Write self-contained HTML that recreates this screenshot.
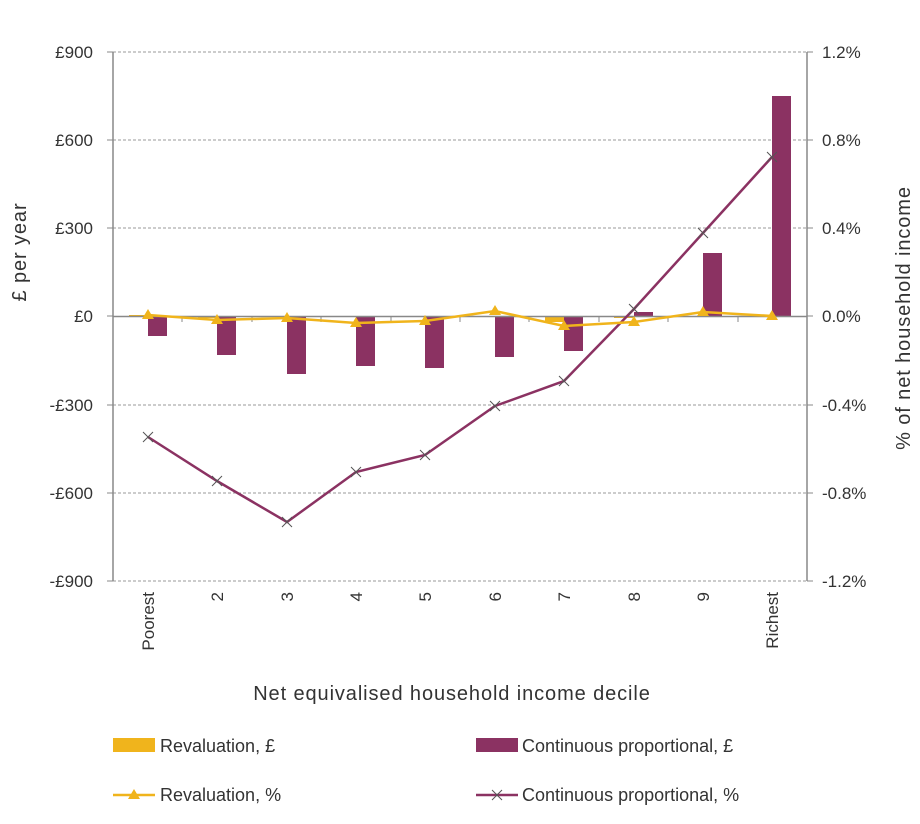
<!DOCTYPE html>
<html><head><style>
body{margin:0;background:#fff;}
svg text{font-family:"Liberation Sans",sans-serif;fill:#333;}
.ttl{font-size:20px;letter-spacing:0.9px;}
</style></head><body>
<svg width="920" height="819" viewBox="0 0 920 819" xmlns="http://www.w3.org/2000/svg">
<g stroke="#999" stroke-dasharray="3,2" stroke-width="1">
<line x1="113" y1="52" x2="807" y2="52"/>
<line x1="113" y1="140" x2="807" y2="140"/>
<line x1="113" y1="228" x2="807" y2="228"/>
<line x1="113" y1="405" x2="807" y2="405"/>
<line x1="113" y1="493" x2="807" y2="493"/>
<line x1="113" y1="581" x2="807" y2="581"/>
</g>
<g fill="#8B3262">
<rect x="148" y="316" width="19" height="20"/>
<rect x="217" y="316" width="19" height="39"/>
<rect x="287" y="316" width="19" height="58"/>
<rect x="356" y="316" width="19" height="50"/>
<rect x="425" y="316" width="19" height="52"/>
<rect x="495" y="316" width="19" height="41"/>
<rect x="564" y="316" width="19" height="35"/>
<rect x="634" y="312" width="19" height="4"/>
<rect x="703" y="253" width="19" height="63"/>
<rect x="772" y="96" width="19" height="220"/>
</g>
<g fill="#F0B41C">
<rect x="129" y="315" width="19" height="2"/>
<rect x="198" y="316" width="19" height="2"/>
<rect x="545" y="316" width="19" height="6"/>
<rect x="614" y="316" width="19" height="2"/>
</g>
<g stroke="#888" stroke-width="1.5" fill="none">
<line x1="113" y1="316.5" x2="807" y2="316.5"/>
<line x1="113" y1="52" x2="113" y2="581"/>
<line x1="807" y1="52" x2="807" y2="581"/>
</g>
<g stroke="#888" stroke-width="1">
<line x1="182" y1="316" x2="182" y2="322"/><line x1="252" y1="316" x2="252" y2="322"/>
<line x1="321" y1="316" x2="321" y2="322"/><line x1="391" y1="316" x2="391" y2="322"/>
<line x1="460" y1="316" x2="460" y2="322"/><line x1="529" y1="316" x2="529" y2="322"/>
<line x1="599" y1="316" x2="599" y2="322"/><line x1="668" y1="316" x2="668" y2="322"/>
<line x1="738" y1="316" x2="738" y2="322"/>
<line x1="107" y1="52" x2="113" y2="52"/><line x1="107" y1="140" x2="113" y2="140"/><line x1="107" y1="228" x2="113" y2="228"/><line x1="107" y1="316" x2="113" y2="316"/><line x1="107" y1="405" x2="113" y2="405"/><line x1="107" y1="493" x2="113" y2="493"/><line x1="107" y1="581" x2="113" y2="581"/>
<line x1="807" y1="52" x2="813" y2="52"/><line x1="807" y1="140" x2="813" y2="140"/><line x1="807" y1="228" x2="813" y2="228"/><line x1="807" y1="316" x2="813" y2="316"/><line x1="807" y1="405" x2="813" y2="405"/><line x1="807" y1="493" x2="813" y2="493"/><line x1="807" y1="581" x2="813" y2="581"/>
</g>
<polyline fill="none" stroke="#8B3262" stroke-width="2.5" points="148,437 217,481 287,522 356,472 425,455 495,406 564,381 634,309 703,233 772,157"/>
<g stroke="#555" stroke-width="1">
<path d="M143,432l10,10M153,432l-10,10"/><path d="M212,476l10,10M222,476l-10,10"/><path d="M282,517l10,10M292,517l-10,10"/><path d="M351,467l10,10M361,467l-10,10"/><path d="M420,450l10,10M430,450l-10,10"/><path d="M490,401l10,10M500,401l-10,10"/><path d="M559,376l10,10M569,376l-10,10"/><path d="M629,304l10,10M639,304l-10,10"/><path d="M698,228l10,10M708,228l-10,10"/><path d="M767,152l10,10M777,152l-10,10"/>
</g>
<polyline fill="none" stroke="#F0B41C" stroke-width="2.5" points="148,315 217,320 287,318 356,323 425,321 495,311 564,326 634,322 703,312 772,316"/>
<g fill="#F0B41C">
<path d="M148,309l6,10h-12z"/><path d="M217,314l6,10h-12z"/><path d="M287,312l6,10h-12z"/><path d="M356,317l6,10h-12z"/><path d="M425,315l6,10h-12z"/><path d="M495,305l6,10h-12z"/><path d="M564,320l6,10h-12z"/><path d="M634,316l6,10h-12z"/><path d="M703,306l6,10h-12z"/><path d="M772,310l6,10h-12z"/>
</g>
<g font-size="17" text-anchor="end">
<text x="93" y="58">£900</text><text x="93" y="146">£600</text><text x="93" y="234">£300</text><text x="93" y="322">£0</text><text x="93" y="411">-£300</text><text x="93" y="499">-£600</text><text x="93" y="587">-£900</text>
</g>
<g font-size="17">
<text x="822" y="58">1.2%</text><text x="822" y="146">0.8%</text><text x="822" y="234">0.4%</text><text x="822" y="322">0.0%</text><text x="822" y="411">-0.4%</text><text x="822" y="499">-0.8%</text><text x="822" y="587">-1.2%</text>
</g>
<g font-size="17" text-anchor="end">
<text transform="translate(154,592) rotate(-90)">Poorest</text>
<text transform="translate(223,592) rotate(-90)">2</text>
<text transform="translate(293,592) rotate(-90)">3</text>
<text transform="translate(362,592) rotate(-90)">4</text>
<text transform="translate(431,592) rotate(-90)">5</text>
<text transform="translate(501,592) rotate(-90)">6</text>
<text transform="translate(570,592) rotate(-90)">7</text>
<text transform="translate(640,592) rotate(-90)">8</text>
<text transform="translate(709,592) rotate(-90)">9</text>
<text transform="translate(778,592) rotate(-90)">Richest</text>
</g>
<text x="452" y="700" class="ttl" text-anchor="middle">Net equivalised household income decile</text>
<text transform="translate(26,252) rotate(-90)" class="ttl" text-anchor="middle">£ per year</text>
<text transform="translate(910,318) rotate(-90)" class="ttl" text-anchor="middle">% of net household income</text>
<rect x="113" y="738" width="42" height="14" fill="#F0B41C"/>
<text x="160" y="752" font-size="18">Revaluation, £</text>
<rect x="476" y="738" width="42" height="14" fill="#8B3262"/>
<text x="522" y="752" font-size="18">Continuous proportional, £</text>
<line x1="113" y1="795" x2="155" y2="795" stroke="#F0B41C" stroke-width="2.5"/>
<path d="M134,789l6,10h-12z" fill="#F0B41C"/>
<text x="160" y="801" font-size="18">Revaluation, %</text>
<line x1="476" y1="795" x2="518" y2="795" stroke="#8B3262" stroke-width="2.5"/>
<path d="M492,790l10,10M502,790l-10,10" stroke="#555"/>
<text x="522" y="801" font-size="18">Continuous proportional, %</text>
</svg>
</body></html>
